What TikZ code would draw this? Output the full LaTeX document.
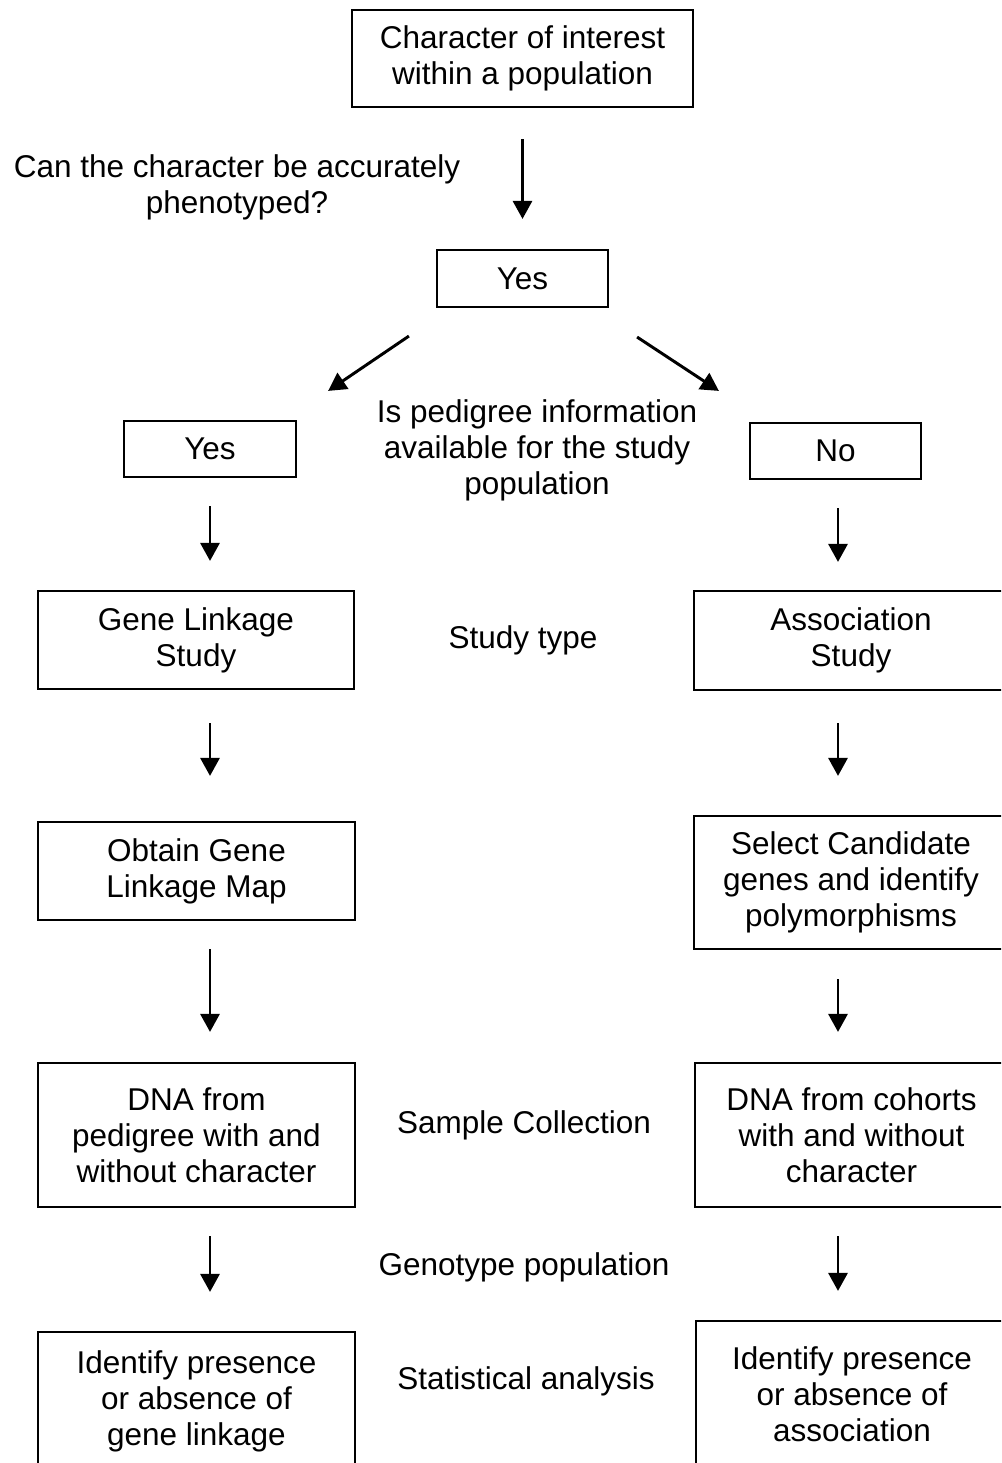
\documentclass[tikz,border=0pt]{standalone}
\usepackage{fontspec}
\setmainfont{Liberation Sans}
\usetikzlibrary{arrows.meta}

\begin{document}
\begin{tikzpicture}[x=0.025cm,y=-0.025cm,>={Triangle[length=0.45cm,width=0.475cm]},
        line width=1.5pt,font=\fontsize{22.4}{25.6}\selectfont,
        main node/.style={draw,align=center,inner sep=0pt},
        plain node/.style={align=center,inner sep=0pt},
        every edge/.style={draw,line width=2.1pt}]
        \useasboundingbox (0,0) rectangle (1001,1463);
        \clip (0,0) rectangle (1001,1463);
        \coordinate (cl) at (210,0);
        \coordinate (cr) at (838,0);
        \node[main node,minimum width=8.525cm,minimum height=2.425cm] (1) at (522.5,58.5) {Character of interest\\within a population};
        \node[plain node] (q1) at (237,187) {Can the character be accurately\\phenotyped?};
        \node[main node,minimum width=4.275cm,minimum height=1.425cm] (2) at (522.5,278.5) {Yes};
        \node[main node,minimum width=4.3cm,minimum height=1.4cm] (3) at (210,449) {Yes};
        \node[plain node] (q2) at (537,450) {Is pedigree information\\available for the study\\population};
        \node[main node,minimum width=4.275cm,minimum height=1.4cm] (4) at (835.5,451) {No};
        \node[main node,minimum width=7.9cm,minimum height=2.45cm] (5) at (196,640) {Gene Linkage\\Study};
        \node[main node,minimum width=7.85cm,minimum height=2.475cm] (6) at (851,640.5) {Association\\Study};
        \node[plain node] (t1) at (523,640) {Study type};
        \node[main node,minimum width=7.925cm,minimum height=2.45cm] (7) at (196.5,871) {Obtain Gene\\Linkage Map};
        \node[main node,minimum width=7.85cm,minimum height=3.325cm] (8) at (851,882.5) {Select Candidate\\genes and identify\\polymorphisms};
        \node[main node,minimum width=7.925cm,minimum height=3.6cm] (9) at (196.5,1135) {DNA from\\pedigree with and\\without character};
        \node[main node,minimum width=7.825cm,minimum height=3.6cm] (10) at (851.5,1135) {DNA from cohorts\\with and without\\character};
        \node[plain node] (t2) at (524,1125) {Sample Collection};
        \node[plain node] (t3) at (524,1267) {Genotype population};
        \node[main node,minimum width=7.925cm,minimum height=3.45cm] (11) at (196.5,1401) {Identify presence\\or absence of\\gene linkage};
        \node[main node,minimum width=7.8cm,minimum height=3.65cm] (12) at (852,1394) {Identify presence\\or absence of\\association};
        \node[plain node] (t4) at (526,1381) {Statistical analysis};
        \path
        (1) edge [->, shorten <=0.775cm, shorten >=0.75cm] (2)
        ([xshift=-0.675cm,yshift=-0.7cm]2.south west) edge [->] ([xshift=0.775cm,yshift=0.725cm]3.north east)
        ([xshift=0.7cm,yshift=-0.725cm]2.south east) edge [->] ([xshift=-0.75cm,yshift=0.775cm]4.north west)
        (3.south -| cl) edge [->, shorten <=0.7cm, shorten >=0.725cm] (5.north -| cl)
        (5.south -| cl) edge [->, shorten <=0.825cm, shorten >=1.125cm] (7.north -| cl)
        (7.south -| cl) edge [->, shorten <=0.7cm, shorten >=0.75cm] (9.north -| cl)
        (9.south -| cl) edge [->, shorten <=0.7cm, shorten >=0.975cm] (11.north -| cl)
        (4.south -| cr) edge [->, shorten <=0.7cm, shorten >=0.7cm] (6.north -| cr)
        (6.south -| cr) edge [->, shorten <=0.8cm, shorten >=0.975cm] (8.north -| cr)
        (8.south -| cr) edge [->, shorten <=0.725cm, shorten >=0.75cm] (10.north -| cr)
        (10.south -| cr) edge [->, shorten <=0.7cm, shorten >=0.725cm] (12.north -| cr)
        ;
\end{tikzpicture}
\end{document}
